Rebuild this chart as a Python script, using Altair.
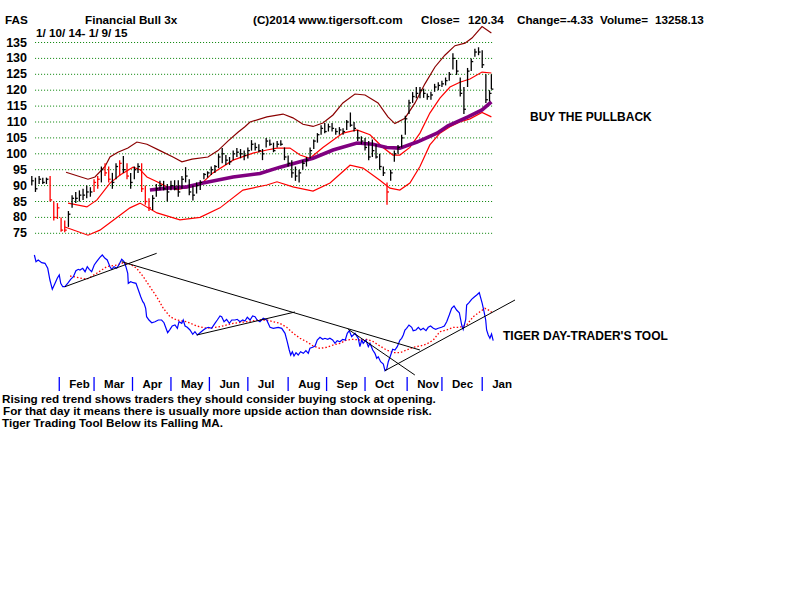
import altair as alt
import pandas as pd

# ---------------- data (trading-day number: 0 = 10 Jan 2014) ----------------
# price bars, one every second trading day
bar_high = [93, 92.5, 93, 92.5, 92.5, 93, 85, 84.5, 80, 79,
            82, 87, 88, 88.5, 89, 90, 89.5, 92, 93, 96,
            97, 96, 94, 97, 98, 99.3, 97, 94, 96, 97,
            97, 90, 86, 87, 90.5, 91.5, 91.5, 90.5, 91.5, 91.7,
            91.7, 93, 95.8, 92, 90, 91, 91.7, 94, 94.5, 96,
            96.5, 100, 101.8, 99.6, 99, 101, 101.8, 101.5, 101, 102,
            104.3, 103.5, 103, 101.5, 105, 104.5, 103.5, 104, 104.3, 102,
            99.5, 98, 96, 95, 98, 99, 102, 104.5, 106.5, 109,
            109.7, 109.5, 109.7, 108, 108.4, 108, 110.6, 113, 110, 107.5,
            105.5, 105, 104, 104.5, 103, 100, 96, 91, 95, 101,
            102.8, 106, 112, 117, 119.4, 121, 121, 120.5, 119, 119.5,
            122, 122.5, 123, 124, 125.7, 131.6, 129.5, 124, 121, 127,
            130, 133, 133.5, 132.6, 125, 120, 125]
bar_low = [90, 88, 90.5, 90.5, 90.5, 85, 79, 79.5, 75.5, 75.3,
           77, 83, 84.5, 85, 85.5, 86, 86.5, 88, 89, 91,
           93, 91, 89, 92, 93, 94, 92, 89, 92, 94,
           88, 84, 82, 82.3, 86.5, 88.5, 88.5, 85, 88.5, 88.5,
           86.5, 89, 91, 87, 85.3, 87.5, 88.6, 92, 92.5, 93.3,
           94, 95.5, 97, 96.5, 96.5, 98, 99, 98.6, 98, 98.5,
           101, 101, 100.5, 98, 102, 102.5, 100.5, 102, 102.5, 98,
           96, 92.5, 91.5, 91, 95, 96, 98.5, 101.5, 103.5, 106,
           106.5, 107, 107, 106, 106, 106, 107.5, 108.5, 107, 104,
           103, 101, 98, 99, 98.5, 95, 93, 84, 91.5, 97.5,
           100, 102, 106, 112.5, 116, 117.5, 117.5, 117.6, 117, 117,
           119.5, 120, 121, 121.5, 123, 126.5, 124.8, 118, 112.5, 121,
           126, 130.5, 131, 127, 116, 116.5, 120.3]
bar_close = [91.5, 89, 92, 91, 92, 85.5, 80, 83, 76, 76,
             81, 86, 86, 87, 87, 88, 88, 91, 92, 95,
             94, 92, 91, 96, 97, 95, 93, 91, 95, 96,
             89, 85, 83, 86, 89, 90, 89, 88, 90, 89,
             88, 92, 93, 88, 87, 90, 91, 93.5, 94, 95,
             96, 99, 100, 98, 97.5, 100, 100.5, 100, 99.5, 101,
             103, 102, 101, 100, 104, 103, 101, 103, 103, 99,
             97, 94, 93, 94, 97, 98, 101, 104, 106, 108,
             107, 108.5, 108, 107, 107.5, 107, 110, 109, 108, 105,
             104, 102, 99, 101, 99, 96, 94, 88, 94, 100,
             102, 105, 111, 116, 118, 119, 120, 119, 118, 118.5,
             121, 121.5, 122, 123, 125, 130, 126, 119, 114, 126,
             129, 132, 132, 128, 117, 119, 120.34]
red_bars = [5, 6, 7, 8, 9, 17, 18, 20, 21, 24, 26, 30, 31, 32, 97]
bar_day = list(range(0, 251, 2)) + [251]

# Bollinger bands and moving average: (trading day, price)
upper_band = [(18.7, 94.2), (30.7, 92), (34.5, 92.7), (40, 96), (42.7, 99), (47, 100.5),
              (52.5, 101.8), (57.4, 103.7), (62.9, 103), (70, 101), (77.1, 99), (82, 97.5),
              (87.5, 98.3), (96.2, 99), (101.7, 101), (107.1, 104), (112.6, 106.8),
              (116.4, 108.5), (119.2, 110), (128.4, 111.6), (137.2, 112.5), (142.6, 111.3),
              (148.1, 109.3), (153.6, 108.6), (159, 109.7), (164.5, 112.2), (169.9, 116),
              (176.5, 118.8), (182, 118.5), (189.1, 116), (194.5, 111.6), (198.3, 109.5),
              (203.8, 111.2), (209.3, 116), (214.7, 122), (220.2, 127.3), (225.6, 131),
              (231.1, 134), (236.6, 134.8), (240.4, 136.4), (245.9, 140), (251, 138)]
middle_band = [(19.8, 84.5), (30.1, 83.3), (35.6, 85.5), (42.7, 90.8), (48.2, 93.3),
               (55.3, 95.8), (59.1, 95), (62.9, 92.7), (68.4, 91.2), (73.8, 89.6),
               (79.3, 88.7), (86.4, 89.6), (91.9, 90.2), (98.9, 94), (109.9, 98),
               (120.8, 100.2), (128.4, 101.2), (133.9, 101.8), (141.0, 101.8), (146.5, 99.6),
               (151.9, 98.6), (159.0, 102), (169.9, 106.5), (177.6, 107.5), (184.7, 106),
               (191.8, 102), (197.2, 99.6), (201.0, 99.6), (206.5, 102), (212.0, 106.5),
               (217.4, 112.8), (222.9, 117.5), (228.4, 121), (233.8, 122.5), (239.3, 123.5),
               (245.9, 125.7), (251, 125.4)]
lower_band = [(18.1, 77), (30.7, 74.4), (37.2, 76), (46.5, 80), (53.6, 83), (59.1, 84.5),
              (68.4, 81.4), (80.9, 79.2), (91.9, 80), (102.8, 83), (115.3, 88.6),
              (128.4, 90.2), (133.9, 91.2), (142.6, 89.6), (153.6, 88.3), (162.9, 90.8),
              (173.8, 96.4), (180.9, 95.5), (190.1, 91.7), (195.6, 89.2), (201.0, 88.6),
              (206.5, 90.8), (212.0, 96), (217.4, 102.8), (222.9, 106.5), (228.4, 108.5),
              (233.8, 110), (239.3, 111), (245.9, 113), (251, 111.6)]
long_ma = [(64.5, 88.6), (73.8, 89.2), (84.7, 89.6), (93.5, 90.8), (109.9, 92.7),
           (124.6, 93.8), (135.6, 95.8), (146.5, 97.5), (153.6, 98.6), (164.5, 101.2),
           (177.6, 103.4), (186.3, 103), (193.9, 102), (201.0, 101.8), (210.4, 103.7),
           (221.3, 106.5), (227.3, 108.8), (238.2, 111.6), (245.9, 113.8), (251, 116.3)]

# Tiger Day-Trader's Tool: (trading day, tool value)
tool_line = [(1.4, 145), (2.3, 138.3), (3.5, 140), (5.4, 137.3), (7.2, 136.7), (8.7, 131.7),
             (9.9, 120), (11.2, 110.7), (12.7, 116.7), (13.9, 121.7), (15.0, 125), (15.8, 116.7),
             (16.9, 113.3), (18.1, 113.3), (19.9, 117.3), (21.2, 120.7), (22.7, 123.3),
             (24.1, 129.3), (25.4, 130.7), (26.3, 130), (27.8, 131.7), (29.1, 128.3),
             (30.3, 133.3), (31.4, 130.7), (32.7, 128.3), (34.1, 135), (35.4, 138.3),
             (37.2, 142.7), (38.5, 145), (40.0, 141.7), (41.2, 140), (42.7, 133.3),
             (43.6, 130.7), (44.9, 133.3), (46.4, 131.7), (47.8, 136), (49.1, 140.7),
             (50.4, 138.3), (51.4, 133.3), (52.4, 126.7), (52.7, 116.7), (54.0, 118.3),
             (55.4, 117.3), (56.9, 116.7), (58.2, 110), (59.5, 103.3), (60.6, 98.3),
             (61.3, 96.7), (62.2, 91.7), (62.7, 83.3), (64.0, 80), (65.5, 77.3), (67.3, 78.3),
             (69.1, 80), (70.9, 80), (72.2, 77.3), (73.3, 71.7), (74.2, 67.3), (75.5, 70.7),
             (76.7, 74), (78.2, 75), (79.5, 71.7), (80.4, 78.3), (81.9, 76.7), (82.7, 80),
             (83.7, 74), (84.9, 72.7), (86.4, 70), (87.9, 65.7), (89.1, 68.3), (90.4, 65),
             (91.9, 67.3), (93.7, 70), (95.1, 71.7), (96.4, 72.7), (98.2, 71.7), (100.0, 76.7),
             (101.3, 80), (102.8, 84), (103.7, 83.3), (105.0, 78.3), (106.4, 80.7),
             (107.9, 76.7), (109.2, 80), (111.0, 80), (112.2, 80.7), (113.7, 78.3),
             (115.2, 80), (116.4, 79), (117.7, 82.7), (119.2, 80), (120.6, 84), (121.9, 83.3),
             (123.1, 80), (124.6, 78.3), (126.4, 81.7), (128.3, 80), (130.1, 72.7),
             (131.9, 71.7), (134.6, 72.7), (136.5, 71.7), (138.3, 66.7), (139.5, 58.3),
             (140.6, 50), (141.4, 45), (142.3, 48.3), (143.2, 44), (144.3, 47.3), (145.5, 45),
             (146.8, 48.3), (148.3, 46.7), (149.7, 49.3), (151.0, 46.7), (151.9, 51.7),
             (153.4, 52.7), (154.7, 54), (155.9, 60), (157.4, 62.7), (158.9, 60.7),
             (160.1, 61.7), (161.6, 60.7), (162.8, 61.7), (164.3, 60), (165.6, 56.7),
             (166.8, 59.3), (168.3, 58.3), (169.8, 60.7), (171.2, 60), (172.3, 66.7),
             (173.4, 69.3), (174.7, 63.3), (176.5, 66.7), (178.3, 61.7), (179.2, 53.3),
             (180.2, 60), (181.0, 56.7), (182.5, 60), (183.8, 53.3), (184.7, 56.7),
             (186.2, 50), (187.4, 46.7), (188.4, 41.7), (189.2, 43.3), (190.5, 38.3),
             (192.0, 36), (192.9, 29.3), (193.8, 30.7), (194.7, 38.3), (195.6, 42.7),
             (197.1, 50.7), (198.3, 50), (199.6, 53.3), (201.1, 60), (202.0, 61.7),
             (202.9, 65), (203.8, 70), (204.7, 71.7), (206.0, 75), (207.5, 72.7),
             (208.3, 69.3), (209.8, 70), (211.1, 72.7), (212.4, 70), (213.8, 71.7),
             (215.3, 69.3), (216.5, 72.7), (217.8, 74), (219.3, 71.7), (220.6, 70.7),
             (222.0, 71.7), (223.8, 72.7), (225.3, 74), (226.6, 78.3), (228.0, 85),
             (229.3, 91.7), (230.6, 94), (232.0, 90), (233.5, 87.3), (234.8, 75),
             (235.6, 70.7), (237.0, 80.7), (237.5, 95), (238.8, 97.3), (240.2, 100.7),
             (241.5, 102.7), (243.0, 105), (244.4, 107.3), (245.1, 102.7), (246.0, 96.7),
             (247.0, 88.3), (247.9, 80), (248.4, 70), (249.3, 65), (250.2, 61.7),
             (251.1, 66), (252.0, 59.3)]
tool_ma = [(20.9, 124), (24.5, 122.7), (30.0, 120.7), (35.4, 126.7), (40.9, 133.3),
           (46.4, 135), (50.0, 137.3), (53.6, 136), (57.3, 131.7), (60.9, 123.3),
           (64.5, 113.3), (68.2, 103.3), (71.8, 91.7), (75.5, 83.3), (79.1, 80),
           (84.6, 78.3), (90.1, 74), (95.5, 71.7), (102.8, 73.3), (110.0, 76.7),
           (117.4, 78.3), (124.6, 80), (128.3, 80), (131.9, 78.3), (135.5, 76.7),
           (139.2, 72.7), (142.8, 66.7), (146.5, 61.7), (150.1, 58.3), (153.7, 54),
           (157.4, 51.7), (161.0, 52.7), (164.6, 55), (168.3, 56.7), (172.0, 60),
           (175.6, 60.7), (179.2, 60), (182.9, 60.7), (186.5, 58.3), (190.1, 54),
           (193.8, 50), (197.4, 47.3), (201.1, 47.3), (204.7, 50), (208.3, 52.7),
           (212.0, 54), (215.7, 56), (219.3, 60), (222.9, 68.3), (226.6, 70),
           (230.2, 72.7), (233.8, 72.7), (237.5, 75), (241.1, 83.3), (244.8, 88.3),
           (247.5, 91.7), (250.2, 89.3), (252.0, 86)]
# trend lines: (day1, value1, day2, value2)
trend_lines = [(18.1, 113.3, 68.2, 146.7),
               (49.1, 138.3, 212.0, 50),
               (90.1, 65, 143.7, 88),
               (172.8, 70.7, 209.2, 25),
               (192.9, 29.3, 263.9, 100)]

price_levels = [135, 130, 125, 120, 115, 110, 105, 100, 95, 90, 85, 80, 75]
month_start_day = [15, 34, 55, 76, 97, 118, 140, 161, 182, 205, 224, 246]
month_names = ["Feb", "Mar", "Apr", "May", "Jun", "Jul", "Aug", "Sep", "Oct", "Nov", "Dec", "Jan"]

# ---------------- chart ----------------
FONT = "Liberation Sans"
XS = alt.Scale(domain=[0, 252], range=[31.8, 493.2])
PS = alt.Scale(domain=[75, 135], range=[233.3, 42.5])
TS = alt.Scale(domain=[0, 160], range=[400, 240])


def xq(f):
    return alt.X(f"{f}:Q", scale=XS, axis=None)


def py(f):
    return alt.Y(f"{f}:Q", scale=PS, axis=None)


def ty(f):
    return alt.Y(f"{f}:Q", scale=TS, axis=None)


grid_df = pd.DataFrame({"p": price_levels, "x0": 1.8, "x1": 252,
                        "lab": [str(v) for v in price_levels]})
grid = alt.Chart(grid_df).mark_rule(color="#008000", strokeDash=[1, 2], strokeWidth=1).encode(
    x=xq("x0"), x2="x1:Q", y=py("p"))
ylabels = alt.Chart(grid_df).mark_text(align="right", baseline="middle", font=FONT,
                                       fontWeight="bold", fontSize=12.5, color="black").encode(
    x=alt.value(27), y=py("p"), text="lab:N")

bars_df = pd.DataFrame({"day": bar_day, "hi": bar_high, "lo": bar_low, "close": bar_close,
                        "col": ["#ff0000" if i in red_bars else "#000000" for i in range(len(bar_day))]})
bars = alt.Chart(bars_df).mark_rule(strokeWidth=1.3).encode(
    x=xq("day"), y=py("lo"), y2="hi:Q", color=alt.Color("col:N", scale=None))
ticks = alt.Chart(bars_df).transform_calculate(d2="datum.day + 1.1").mark_rule(strokeWidth=1.3).encode(
    x=xq("day"), x2="d2:Q", y=py("close"), color=alt.Color("col:N", scale=None))


def price_line(points, color, width):
    df = pd.DataFrame(points, columns=["day", "v"])
    return alt.Chart(df).mark_line(color=color, strokeWidth=width, interpolate="linear").encode(
        x=xq("day"), y=py("v"))


def tool_curve(points, color, width, dash=None):
    df = pd.DataFrame(points, columns=["day", "v"])
    kw = dict(color=color, strokeWidth=width)
    if dash:
        kw["strokeDash"] = dash
    return alt.Chart(df).mark_line(**kw).encode(x=xq("day"), y=ty("v"))


upper = price_line(upper_band, "#8b0000", 1.2)
middle = price_line(middle_band, "#ff0000", 1.2)
lower = price_line(lower_band, "#ff0000", 1.2)
ma = price_line(long_ma, "#800080", 3.6)

tool = tool_curve(tool_line, "#0000ff", 1.2)
toolma = tool_curve(tool_ma, "#ff0000", 1.3, dash=[1.5, 2])
tl_df = pd.DataFrame(trend_lines, columns=["d1", "v1", "d2", "v2"])
tlines = alt.Chart(tl_df).mark_rule(color="black", strokeWidth=1).encode(
    x=xq("d1"), x2="d2:Q", y=ty("v1"), y2="v2:Q")

m_df = pd.DataFrame({"day": month_start_day, "m": month_names})
mticks = alt.Chart(m_df).mark_rule(color="#0000ff", strokeWidth=1.3).encode(
    x=xq("day"), y=alt.value(377), y2=alt.value(391))
mlabels = alt.Chart(m_df).mark_text(align="left", baseline="middle", dx=10, font=FONT,
                                    fontWeight="bold", fontSize=11.5, color="black").encode(
    x=xq("day"), y=alt.value(385), text="m:N")

NB = "\u00a0"
notes = [
    ("FAS", 5, 20, 11.7),
    ("Financial Bull 3x", 85, 20, 11.7),
    ("(C)2014 www.tigersoft.com", 253, 20, 11.7),
    ("Close=", 421, 20, 11.7),
    ("120.34", 468, 20, 11.7),
    ("Change=-4.33", 517, 20, 11.7),
    ("Volume=", 600, 20, 11.7),
    ("13258.13", 655, 20, 11.7),
    ("1/ 10/ 14- 1/ 9/ 15", 36, 33, 11.7),
    ("BUY THE PULLBACK", 530, 117, 12),
    ("TIGER DAY-TRADER'S TOOL", 503, 336, 12),
    ("Rising red trend shows traders they should consider buying stock at opening.", 2, 398.5, 11.7),
    (f"{NB}For that day it means there is usually more upside action than downside risk.", 3, 410.5, 11.7),
    ("Tiger Trading Tool Below its Falling MA.", 2, 422.5, 11.7),
]
text_layers = []
for t, x, y, fs in notes:
    text_layers.append(
        alt.Chart(pd.DataFrame({"t": [t]})).mark_text(
            align="left", baseline="middle", font=FONT, fontWeight="bold",
            fontSize=fs, color="black").encode(
            x=alt.value(x), y=alt.value(y), text="t:N"))

chart = alt.layer(
    grid, ylabels, upper, middle, lower, ma, bars, ticks,
    toolma, tool, tlines, mticks, mlabels, *text_layers
).resolve_scale(y="independent").properties(
    width=800, height=600, autosize="none", padding=0, background="white"
).configure_view(stroke=None)

chart.save("out.html", embed_options={"renderer": "svg", "actions": False})
